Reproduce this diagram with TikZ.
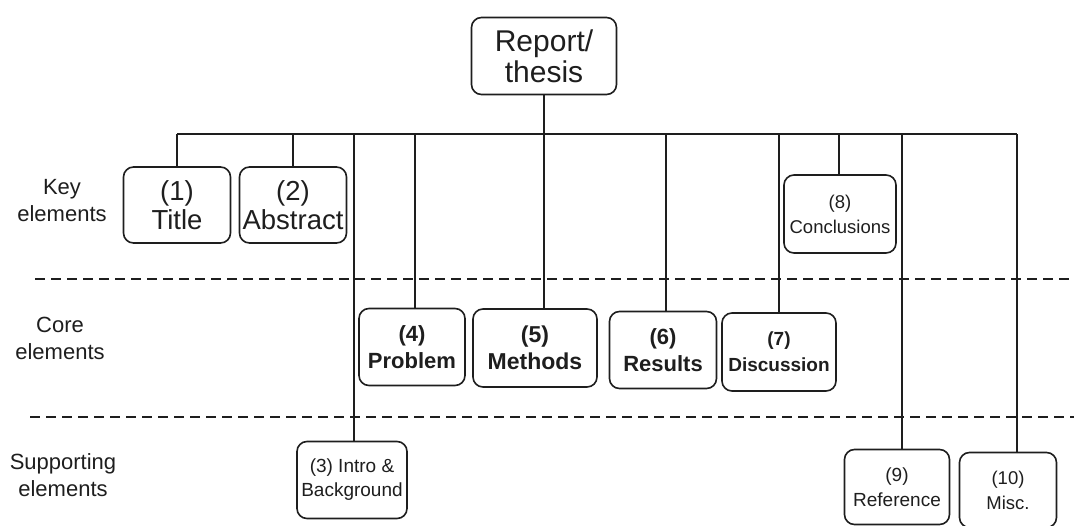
\documentclass[tikz,border=0pt]{standalone}
\usepackage{fontspec}
\setmainfont{Liberation Sans}
\definecolor{ink}{RGB}{30,30,30}
\begin{document}
\begin{tikzpicture}[x=1pt,y=-1pt,
  box/.style={draw=ink, text=ink, line width=1.6pt, rounded corners=10pt, align=center, inner sep=0pt},
  conn/.style={draw=ink, line width=1.1pt},
  sepline/.style={draw=ink, line width=1.1pt, dash pattern=on 10pt off 6pt},
  lab/.style={text=ink, align=center, inner sep=0pt, font=\fontsize{22}{27}\selectfont}]
\useasboundingbox (0,0) rectangle (1074,525);
% top
\node[box, minimum width=145, minimum height=77, font=\fontsize{30}{31}\selectfont] (report) at (544,56) {Report/\\thesis};
% key elements
\node[box, minimum width=107, minimum height=76, font=\fontsize{27.5}{29}\selectfont] (t1) at (177,205) {(1)\\Title};
\node[box, minimum width=107, minimum height=76, font=\fontsize{27.5}{29}\selectfont] (t2) at (293,205) {(2)\\Abstract};
\node[box, minimum width=112, minimum height=78, font=\fontsize{18.5}{25}\selectfont] (t8) at (840,214) {(8)\\Conclusions};
% core elements
\node[box, minimum width=106, minimum height=77, font=\bfseries\fontsize{22}{27}\selectfont] (t4) at (412,347) {(4)\\Problem};
\node[box, minimum width=124, minimum height=78, font=\bfseries\fontsize{23}{27}\selectfont] (t5) at (535,348) {(5)\\Methods};
\node[box, minimum width=107, minimum height=77, font=\bfseries\fontsize{22}{27}\selectfont] (t6) at (663,350) {(6)\\Results};
\node[box, minimum width=114, minimum height=78, font=\bfseries\fontsize{19}{26}\selectfont] (t7) at (779,352) {(7)\\Discussion};
% supporting elements
\node[box, minimum width=110, minimum height=77, font=\fontsize{19}{24}\selectfont] (t3) at (352,480) {(3) Intro \&\\Background};
\node[box, minimum width=105, minimum height=75, font=\fontsize{19}{25}\selectfont] (t9) at (897,487) {(9)\\Reference};
\node[box, minimum width=97, minimum height=75, font=\fontsize{18.5}{25}\selectfont] (t10) at (1008,490) {(10)\\Misc.};
% row labels
\node[lab] (lk) at (62,201) {Key\\elements};
\node[lab] (lc) at (60,338) {Core\\elements};
\node[lab] (ls) at (63,475) {Supporting\\elements};
% separators
\coordinate (s1a) at (35,279);
\coordinate (s1b) at (1074,279);
\coordinate (s2a) at (30,417);
\coordinate (s2b) at (1074,417);
\draw[sepline] (s1a) -- (s1b);
\draw[sepline] (s2a) -- (s2b);
% bus and drops
\coordinate (d1) at (177,134);
\coordinate (d2) at (293,134);
\coordinate (d3) at (354,134);
\coordinate (d4) at (415,134);
\coordinate (d6) at (666,134);
\coordinate (d7) at (779,134);
\coordinate (d8) at (839,134);
\coordinate (d9) at (902,134);
\coordinate (d10) at (1017,134);
\draw[conn] (d1) -- (d10);
\draw[conn] (report.south) -- (report.south |- t5.north);
\draw[conn] (d1) -- (d1 |- t1.north);
\draw[conn] (d2) -- (d2 |- t2.north);
\draw[conn] (d3) -- (d3 |- t3.north);
\draw[conn] (d4) -- (d4 |- t4.north);
\draw[conn] (d6) -- (d6 |- t6.north);
\draw[conn] (d7) -- (d7 |- t7.north);
\draw[conn] (d8) -- (d8 |- t8.north);
\draw[conn] (d9) -- (d9 |- t9.north);
\draw[conn] (d10) -- (d10 |- t10.north);
\end{tikzpicture}
\end{document}
